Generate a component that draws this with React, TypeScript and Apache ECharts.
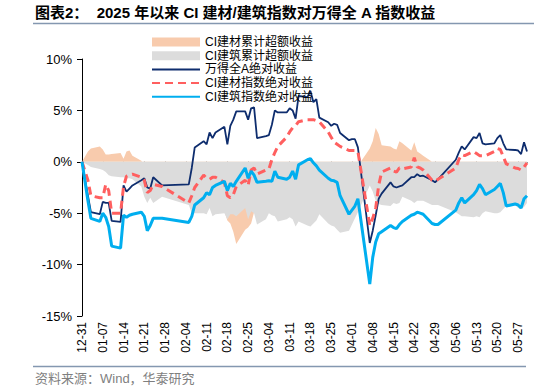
import React, { useEffect, useRef } from "react";
import * as echarts from "echarts";

// Trading dates (MM-DD), 2024-12-31 base through 2025-05-30
const dates: string[] = [
  "12-31", "01-02", "01-03", "01-06", "01-07", "01-08", "01-09", "01-10", "01-13", "01-14", "01-15", "01-16", "01-17", "01-20", "01-21", "01-22", "01-23", "01-24", "01-27",
  "02-05", "02-06", "02-07", "02-10", "02-11", "02-12", "02-13", "02-14", "02-17", "02-18", "02-19", "02-20", "02-21", "02-24", "02-25", "02-26", "02-27", "02-28",
  "03-03", "03-04", "03-05", "03-06", "03-07", "03-10", "03-11", "03-12", "03-13", "03-14", "03-17", "03-18", "03-19", "03-20", "03-21", "03-24", "03-25", "03-26", "03-27", "03-28", "03-31",
  "04-01", "04-02", "04-03", "04-07", "04-08", "04-09", "04-10", "04-11", "04-14", "04-15", "04-16", "04-17", "04-18", "04-21", "04-22", "04-23", "04-24", "04-25", "04-28", "04-29", "04-30",
  "05-06", "05-07", "05-08", "05-09", "05-12", "05-13", "05-14", "05-15", "05-16", "05-19", "05-20", "05-21", "05-22", "05-23", "05-26", "05-27", "05-28", "05-29", "05-30",
];

// CI建材累计超额收益 (%)
const jianCaiExcess: number[] = [
  0, 1.0, 1.3, 1.5, 1.2, 0.7, 0.7, 0.75, 0.85, 0.3, 1.0, 1.1, 0.6, 0.1, -0.2, -0.5, -0.2, -0.7, -0.3,
  -1.8, -2.5, -3.2, -3.3, -3.3, -4.0, -3.8, -4.3, -4.8, -5.7, -6.0, -6.8, -8.0, -6.6, -6.4, -6.0, -4.9, -4.0,
  -3.3, -2.8, -3.2, -4.0, -3.5, -2.5, -2.4, -2.0, -1.5, -2.5, -2.3, -2.8, -1.8, -2.1, -0.5, -0.9, -1.1, -1.8, -1.9, -1.3, -1.0,
  -1.1, -1.1, -0.4, 1.3, 2.0, 3.3, 2.7, 1.6, 1.5, 1.3, 1.2, 2.0, 1.8, 1.1, 1.9, 1.0, 0.8, 0.6, 0.0, -0.2, -0.1,
  -0.8, -1.0, -0.8, -0.6, -1.4, -1.5, -2.2, -1.2, -1.1, -0.8, -1.0, -1.4, -1.3, -1.4, -1.7, -1.75, -1.5, -2.4, -1.1,
];

// CI建筑累计超额收益 (%)
const jianZhuExcess: number[] = [
  0, -0.3, -0.5, -0.7, -0.8, -1.0, -1.3, -1.4, -1.5, -1.5, -1.6, -1.6, -1.7, -2.4, -3.4, -4.0, -3.5, -4.0, -3.4,
  -4.2, -5.0, -5.0, -5.0, -5.1, -4.5, -5.3, -5.1, -5.0, -5.6, -5.1, -5.1, -5.3, -4.5, -5.6, -4.8, -5.0, -6.1,
  -5.6, -5.0, -5.2, -5.3, -5.8, -5.6, -5.4, -5.6, -6.3, -5.8, -6.2, -6.3, -6.0, -5.7, -5.1, -6.0, -6.2, -6.3, -6.6, -6.9, -6.7,
  -6.1, -5.5, -4.9, -2.3, -2.9, -3.8, -4.1, -4.2, -4.3, -4.0, -4.1, -4.0, -3.4, -3.8, -4.0, -3.8, -3.8, -3.8, -4.2, -4.2, -4.2,
  -4.9, -5.1, -5.3, -5.3, -5.4, -5.3, -5.4, -5.0, -4.8, -5.0, -5.0, -4.9, -4.6, -4.3, -4.2, -4.5, -4.6, -4.4, -4.0,
];

// 万得全A绝对收益 (%)
const windA: number[] = [
  0, -3.3, -4.9, -5.1, -3.9, -4.0, -4.0, -5.75, -5.85, -2.3, -2.9, -2.6, -2.3, -1.8, -1.6, -2.5, -2.6, -1.5, -2.3,
  -2.2, -0.6, 1.4, 2.0, 1.7, 2.85, 2.3, 2.85, 3.4, 1.7, 3.5, 4.1, 4.9, 4.9, 4.1, 5.2, 5.3, 2.3,
  2.5, 2.6, 3.6, 5.0, 4.8, 4.8, 5.2, 5.0, 4.2, 6.4, 6.3, 6.9, 5.8, 6.1, 4.3, 3.85, 3.5, 3.7, 3.6, 2.8, 2.1,
  2.2, 2.2, 1.4, -7.9, -6.7, -5.2, -3.6, -3.1, -2.0, -2.4, -2.5, -2.4, -2.3, -1.5, -1.5, -1.2, -1.4, -1.35, -1.8, -2.0, -1.7,
  0.2, 0.9, 1.5, 1.2, 2.4, 2.3, 2.8, 1.8, 1.7, 1.8, 2.3, 2.6, 1.8, 1.2, 1.15, 1.1, 0.75, 1.9, 1.0,
];

// CI建材指数绝对收益 (%)
const jianCaiAbs: number[] = [
  0, -1.8, -3.3, -3.5, -3.5, -2.2, -2.8, -5.0, -5.0, -2.4, -1.4, -1.3, -1.2, -1.5, -1.8, -3.0, -2.8, -2.2, -2.4,
  -4.0, -3.3, -2.5, -1.3, -1.6, -1.7, -1.5, -1.5, -2.0, -3.3, -3.5, -3.2, -2.4, -1.8, -2.3, -0.8, -0.6, -1.2,
  -0.8, -0.7, 0.2, 0.9, 1.5, 2.4, 2.9, 3.3, 3.5, 3.9, 4.1, 4.1, 4.1, 4.0, 3.9, 2.9, 2.4, 1.9, 1.7, 1.5, 1.1,
  1.1, 1.1, 1.0, -6.2, -5.5, -4.5, -2.3, -1.0, -0.6, -0.9, -1.0, -0.6, -0.7, -0.5, 0.4, -0.5, -0.6, -0.8, -1.8, -1.9, -1.7,
  -0.6, 0.2, 0.7, 0.6, 1.0, 0.8, 0.6, 0.6, 0.6, 1.0, 1.3, 1.2, 0.5, -0.2, -0.6, -0.65, -0.8, -0.5, -0.1,
];

// CI建筑指数绝对收益 (%)
const jianZhuAbs: number[] = [
  0, -3.8, -5.5, -5.8, -5.0, -5.4, -6.3, -8.2, -8.4, -5.2, -5.4, -5.2, -5.1, -4.9, -5.3, -6.7, -6.2, -5.5, -5.5,
  -5.9, -5.3, -4.2, -3.5, -3.0, -3.2, -2.5, -2.3, -1.9, -2.8, -2.1, -2.4, -1.9, -0.6, -1.6, -0.9, -1.3, -2.0,
  -1.9, -1.85, -1.9, -0.9, -1.5, -1.7, -1.5, -0.9, -1.7, -0.3, 0.2, 0.3, -0.1, -0.4, -0.8, -1.6, -1.8, -1.85, -2.0, -3.3, -5.1,
  -4.7, -4.3, -3.6, -11.9, -9.3, -7.8, -7.0, -6.8, -6.2, -6.4, -6.5, -6.1, -5.8, -5.2, -5.1, -4.9, -5.0, -5.1, -6.0, -6.1, -6.1,
  -4.7, -4.0, -3.5, -4.0, -3.2, -2.8, -2.2, -2.6, -3.2, -2.7, -2.4, -2.1, -3.0, -4.3, -4.1, -4.2, -4.5, -3.6, -3.3,
];

const seriesNames = [
  "CI建材累计超额收益",
  "CI建筑累计超额收益",
  "万得全A绝对收益",
  "CI建材指数绝对收益",
  "CI建筑指数绝对收益",
];

const yTicks = [-15, -10, -5, 0, 5, 10];

const BASE = Date.UTC(2024, 11, 31);
const DAY = 86400000;
const dayIndex = (s: string): number => {
  const [m, d] = s.split("-").map(Number);
  if (m === 12) return (Date.UTC(2024, m - 1, d) - BASE) / DAY;
  return (Date.UTC(2025, m - 1, d) - BASE) / DAY;
};
const xs = dates.map(dayIndex);
const lastDay = xs[xs.length - 1];
const weekTicks: number[] = [];
for (let v = 0; v <= lastDay; v += 7) weekTicks.push(v);
const fmtDay = (v: number): string => {
  const t = new Date(BASE + v * DAY);
  const mm = String(t.getUTCMonth() + 1).padStart(2, "0");
  const dd = String(t.getUTCDate()).padStart(2, "0");
  return `${mm}-${dd}`;
};
const pairs = (vals: number[]) => vals.map((v, i) => [xs[i], v]);

const FONT = "'Liberation Sans', Arial, 'Noto Sans CJK SC', sans-serif";

export default function App() {
  const ref = useRef<HTMLDivElement>(null);
  useEffect(() => {
    document.body.style.margin = "0";
    if (!ref.current) return;
    const chart = echarts.init(ref.current, undefined, { renderer: "svg" });
    const hideSymbol = { opacity: 0 };
    const option: any = {
      animation: false,
      backgroundColor: "#ffffff",
      textStyle: { fontFamily: FONT },
      grid: { left: 82, right: 7, top: 59, bottom: 76, containLabel: false },
      legend: {
        orient: "vertical",
        left: 146,
        top: 31,
        itemWidth: 48,
        itemHeight: 9,
        itemGap: 1.7,
        itemStyle: { borderWidth: 0 },
        textStyle: { fontSize: 12, color: "#000", fontFamily: FONT, lineHeight: 12 },
        data: [
          { name: seriesNames[0], icon: "rect" },
          { name: seriesNames[1], icon: "rect" },
          { name: seriesNames[2], itemStyle: hideSymbol },
          { name: seriesNames[3], itemStyle: hideSymbol },
          { name: seriesNames[4], itemStyle: hideSymbol },
        ],
      },
      xAxis: [
        {
          type: "value",
          min: 0,
          max: lastDay,
          interval: 7,
          position: "bottom",
          axisLine: { show: false, onZero: false },
          axisTick: { show: false },
          splitLine: { show: false },
          axisLabel: {
            rotate: 90,
            margin: 6,
            fontSize: 12,
            color: "#000",
            fontFamily: FONT,
            customValues: weekTicks,
            formatter: (v: number) => (v % 7 === 0 ? fmtDay(v) : ""),
          },
        },
        {
          type: "value",
          min: 0,
          max: lastDay,
          interval: 7,
          position: "bottom",
          axisLine: { show: true, onZero: true, lineStyle: { color: "#000", width: 1 } },
          axisTick: { show: true, length: 4, customValues: weekTicks, lineStyle: { color: "#000" } },
          axisLabel: { show: false },
          splitLine: { show: false },
        },
      ],
      yAxis: {
        type: "value",
        min: yTicks[0],
        max: yTicks[yTicks.length - 1],
        interval: 5,
        axisLine: { show: true, onZero: false, lineStyle: { color: "#000", width: 1 } },
        axisTick: { show: true, length: 5, lineStyle: { color: "#000" } },
        splitLine: { show: false },
        axisLabel: {
          fontSize: 13,
          color: "#000",
          margin: 10,
          fontFamily: FONT,
          formatter: (v: number) => `${v}%`,
        },
      },
      series: [
        {
          name: seriesNames[0],
          type: "line",
          data: pairs(jianCaiExcess),
          symbol: "none",
          lineStyle: { width: 0 },
          itemStyle: { color: "#F8CBAD" },
          areaStyle: { color: "#F8CBAD", opacity: 1 },
          z: 1,
        },
        {
          name: seriesNames[1],
          type: "line",
          data: pairs(jianZhuExcess),
          symbol: "none",
          lineStyle: { width: 0 },
          itemStyle: { color: "#DCDCDC" },
          areaStyle: { color: "#DCDCDC", opacity: 1 },
          z: 2,
        },
        {
          name: seriesNames[2],
          type: "line",
          data: pairs(windA),
          symbol: "none",
          itemStyle: { color: "#0E2D6E" },
          lineStyle: { color: "#0E2D6E", width: 1.8 },
          z: 3,
        },
        {
          name: seriesNames[3],
          type: "line",
          data: pairs(jianCaiAbs),
          symbol: "none",
          itemStyle: { color: "#FF5F5F" },
          lineStyle: { color: "#FF5F5F", width: 3, type: [8, 5] },
          z: 4,
        },
        {
          name: seriesNames[4],
          type: "line",
          data: pairs(jianZhuAbs),
          symbol: "none",
          itemStyle: { color: "#00AEEF" },
          lineStyle: { color: "#00AEEF", width: 3 },
          z: 5,
        },
      ],
      graphic: [
        {
          type: "text",
          left: 35,
          top: 5,
          style: {
            text: "图表2：  2025 年以来 CI 建材/建筑指数对万得全 A 指数收益",
            font: `bold 15px ${FONT}`,
            fill: "#000",
          },
        },
        {
          type: "line",
          shape: { x1: 33, y1: 23.5, x2: 534, y2: 23.5 },
          style: { stroke: "#8497B0", lineWidth: 1.3 },
        },
        {
          type: "line",
          shape: { x1: 33, y1: 366.5, x2: 526, y2: 366.5 },
          style: { stroke: "#8497B0", lineWidth: 1.3 },
        },
        {
          type: "text",
          left: 35,
          top: 372,
          style: {
            text: "资料来源：Wind，华泰研究",
            font: `13px ${FONT}`,
            fill: "#7F7F7F",
          },
        },
      ],
    };
    chart.setOption(option);
    return () => chart.dispose();
  }, []);
  return <div ref={ref} style={{ width: 534, height: 392 }} />;
}
